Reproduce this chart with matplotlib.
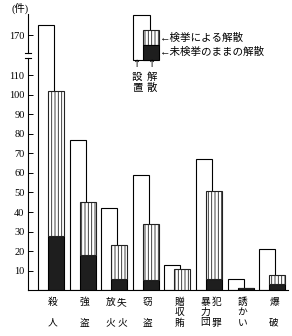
import numpy as np
import matplotlib
matplotlib.use('Agg')
import matplotlib.pyplot as plt
from matplotlib.patches import Rectangle
from matplotlib.transforms import blended_transform_factory

plt.rcParams['font.family'] = ['Liberation Serif', 'Noto Sans CJK JP']
plt.rcParams['hatch.linewidth'] = 0.6

# categories, written as vertical columns (left column first)
label_cols = [['殺人'], ['強盗'], ['放火', '失火'], ['窃盗'], ['贈収賄'],
              ['暴力団', '犯罪'], ['誘かい'], ['爆破']]
# 設置 (established), 検挙による解散, 未検挙のままの解散
established = [175, 77, 42, 59, 13, 67, 6, 21]
dissolved_arrest = [74, 27, 17, 29, 11, 45, 0, 5]
dissolved_open = [28, 18, 6, 5, 0, 6, 1, 3]
yticks = [10, 20, 30, 40, 50, 60, 70, 80, 90, 100, 110, 170]

# broken y axis: 119..161 squeezed into a small gap
LOW, HIGH, GAP = 119, 161, 2.56


def fwd(y):
    y = np.asarray(y, float)
    return np.where(y <= LOW, y, np.where(y >= HIGH, y - (HIGH - LOW) + GAP,
                                          LOW + (y - LOW) * GAP / (HIGH - LOW)))


def inv(v):
    v = np.asarray(v, float)
    return np.where(v <= LOW, v, np.where(v >= LOW + GAP, v + (HIGH - LOW) - GAP,
                                          LOW + (v - LOW) * (HIGH - LOW) / GAP))


fig = plt.figure(figsize=(2.92, 3.36), dpi=100)
ax = fig.add_axes([28 / 292, (336 - 290.25) / 336, 260 / 292, 276.75 / 336])
ax.set_yscale('function', functions=(fwd, inv))

x = np.arange(len(established))
w = 0.506
ax.bar(x - 0.158, established, w, color='white', edgecolor='black', lw=0.8, zorder=2)
ax.bar(x + 0.158, dissolved_open, w, color='#1e1e1e', edgecolor='black', lw=0.8, zorder=3)
ax.bar(x + 0.158, dissolved_arrest, w, bottom=dissolved_open, color='white',
       edgecolor='#222222', hatch='|||||', lw=0.8, zorder=3)

ax.set_xlim(-0.728, 7.5)
ax.set_ylim(0, 181)
ax.set_xticks([])
ax.set_yticks(yticks)
ax.set_yticklabels([str(t) for t in yticks])
ax.yaxis.set_minor_locator(plt.NullLocator())
ax.tick_params(axis='y', direction='in', length=3.5, width=0.7, pad=2.5, labelsize=7.5)
for s in ['top', 'right', 'left']:
    ax.spines[s].set_visible(False)
ax.spines['bottom'].set_linewidth(0.8)
ax.patch.set_visible(False)

# left spine in two pieces with break marks
yt = ax.get_yaxis_transform()
ax.plot([0, 0], [0, LOW], transform=yt, color='black', lw=0.8, clip_on=False)
ax.plot([0, 0], [HIGH, 181], transform=yt, color='black', lw=0.8, clip_on=False)
for yb in (LOW, HIGH):
    ax.plot([-0.01, 0.01], [yb, yb], transform=yt, color='black', lw=0.8, clip_on=False)

# overlay in pixel coords for legend and labels
ov = fig.add_axes([0, 0, 1, 1])
ov.set_xlim(0, 292)
ov.set_ylim(336, 0)
ov.axis('off')
ov.patch.set_visible(False)

ov.text(20, 8, '(件)', fontsize=7.5, ha='center', va='center')

# legend
ov.add_patch(Rectangle((133, 15), 17, 45, facecolor='white', edgecolor='black', lw=0.8))
ov.add_patch(Rectangle((143, 30), 16, 15, facecolor='white', edgecolor='#222222',
                       hatch='|||||', lw=0.8))
ov.add_patch(Rectangle((143, 45), 16, 15, facecolor='#1e1e1e', edgecolor='black', lw=0.8))
ov.text(160, 38, '←検挙による解散', fontsize=7.6, ha='left', va='center')
ov.text(160, 52, '←未検挙のままの解散', fontsize=7.6, ha='left', va='center')
for lx, word in [(137, '設置'), (152, '解散')]:
    ov.text(lx, 64, '↑', fontsize=7, ha='center', va='center', family='DejaVu Sans')
    ov.text(lx, 77, word[0], fontsize=7.5, ha='center', va='center')
    ov.text(lx, 88, word[1], fontsize=7.5, ha='center', va='center')

# category labels (vertical writing)
bt = blended_transform_factory(ax.transData, ov.transData)
for i, cols in enumerate(label_cols):
    offs = [0] if len(cols) == 1 else [-0.184, 0.184]
    for col, off in zip(cols, offs):
        ys = np.linspace(302.5, 323, len(col))
        for ch, yy in zip(col, ys):
            ax.text(i + 0.06 + off, yy, ch, transform=bt, fontsize=7,
                    ha='center', va='center')

fig.savefig('out.png', dpi=100)
